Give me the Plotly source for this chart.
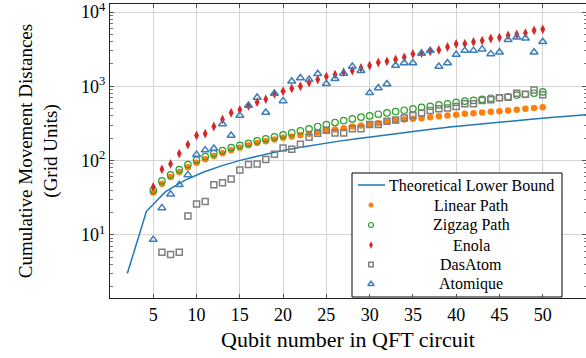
import plotly.graph_objects as go

qubits = list(range(5, 51))

bound_n = [2.00, 4.21, 6.42, 8.63, 10.83, 13.04, 15.25, 17.46, 19.67, 21.88, 24.08, 26.29,
           28.50, 30.71, 32.92, 35.13, 37.33, 39.54, 41.75, 43.96, 46.17, 48.38, 50.58, 52.79, 55.00]
bound_v = [3.0, 20.7, 38, 54, 70, 86, 102, 118, 134, 150, 166, 181,
           197, 213, 230, 248, 266, 284, 302, 320, 338, 356, 376, 395, 414]

linear = [37, 48.5, 60, 70, 81, 93, 104, 115, 125, 137, 148, 160, 172, 182, 192, 202,
          210, 219, 229, 240, 253, 261, 272, 287, 296, 305, 318, 332, 345, 356, 364, 371,
          383, 394, 403, 412, 425, 434, 443, 452, 461, 471, 481, 496, 511, 521]
zigzag = [39.5, 53, 64, 75.5, 88, 101, 113, 124, 136, 149, 160, 170, 184, 195, 208, 221,
          235, 251, 267, 287, 305, 325, 345, 363, 383, 399, 420, 438, 456, 475, 496, 521,
          537, 561, 579, 605, 630, 645, 665, 689, 700, 720, 760, 775, 805, 840]
enola = [44, 76, 90, 124, 164, 218, 230, 287, 358, 440, 482, 544, 610, 669, 789, 857,
         935, 1000, 1120, 1230, 1350, 1435, 1550, 1620, 1770, 1900, 2090, 2170, 2300, 2455,
         2730, 2800, 2950, 3090, 3380, 3720, 3750, 3950, 4130, 4400, 4520, 4850, 5000,
         5200, 5650, 5850]
dasatom = [None, 5.8, 5.4, 5.8, 17.9, 26, 28, 47, 50, 56.5, 74.5, 88, 90, 103.5, 121, 147,
           142, 166, 206, 233, 255, 235, 235, 267, 267, 305, 305, 338, 352, 375, 403, 438,
           470, 496, 510, 533, 580, 580, 641, 660, 700, 710, 804, 780, 890, 770]
atomique = [8.6, 23, 35, 47, 64, 120, 138, 145, 311, 217, 405, 550, 705, 443, 797, 635,
            1166, 1290, 1230, 1470, 1080, 1260, 1490, 1850, 1620, 815, 945, 1070, 1900, 2060,
            2060, 2760, 3020, 1850, 2060, 2670, 3020, 3020, 3160, 2730, 2870, 4240, 4570,
            4420, 2870, 3980]

x_ticks = [5, 10, 15, 20, 25, 30, 35, 40, 45, 50]
y_ticks = [10, 100, 1000, 10000]
y_labels = ["10<sup>1</sup>", "10<sup>2</sup>", "10<sup>3</sup>", "10<sup>4</sup>"]

series_names = ["Theoretical Lower Bound", "Linear Path", "Zigzag Path", "Enola", "DasAtom", "Atomique"]

FONT = "Liberation Serif"

styles = [
    None,
    dict(symbol="circle", size=6.5, color="#ff7f0e", line=dict(width=0)),
    dict(symbol="circle-open", size=6.5, color="#2ca02c", line=dict(width=1.2)),
    dict(symbol="diamond-tall", size=7, color="#d62728", line=dict(width=0)),
    dict(symbol="square-open", size=6, color="#7f7f7f", line=dict(width=1.5)),
    dict(symbol="triangle-up-open", size=7, color="#3b7dbb", line=dict(width=1.5)),
]
LINE_STYLE = dict(color="#1f77b4", width=1.5)

fig = go.Figure()
fig.add_trace(go.Scatter(x=bound_n, y=bound_v, mode="lines", name=series_names[0],
                         line=LINE_STYLE))
for name, vals, st in zip(series_names[1:], [linear, zigzag, enola, dasatom, atomique], styles[1:]):
    fig.add_trace(go.Scatter(x=qubits, y=vals, mode="markers", name=name, marker=st))

# --- legend (drawn on an overlay axis measured in plot pixels) ---
LX0, LX1, LY0, LY1 = 352, 562, 173, 297
row_y = [185, 205, 225, 245, 264.5, 284]
sym_x = 371
text_x = 471
fig.add_trace(go.Scatter(x=[LX0, LX1, LX1, LX0, LX0], y=[LY0, LY0, LY1, LY1, LY0],
                         mode="lines", fill="toself", fillcolor="white",
                         line=dict(color="black", width=1),
                         xaxis="x2", yaxis="y2", showlegend=False, hoverinfo="skip"))
fig.add_trace(go.Scatter(x=[sym_x - 13, sym_x + 14], y=[row_y[0], row_y[0]], mode="lines",
                         line=LINE_STYLE, xaxis="x2", yaxis="y2", showlegend=False, hoverinfo="skip"))
for i in range(1, 6):
    st = dict(styles[i])
    st["size"] = st["size"] - 1.5
    fig.add_trace(go.Scatter(x=[sym_x], y=[row_y[i]], mode="markers", marker=st,
                             xaxis="x2", yaxis="y2", showlegend=False, hoverinfo="skip"))
for i, name in enumerate(series_names):
    fig.add_annotation(x=text_x, y=row_y[i], xref="x2", yref="y2", text=name, showarrow=False,
                       xanchor="center", yanchor="middle", font=dict(family=FONT, size=16, color="black"))

fig.update_layout(
    width=586, height=358,
    margin=dict(l=110, r=0, t=4, b=60, autoexpand=False),
    paper_bgcolor="white", plot_bgcolor="white",
    font=dict(family=FONT, color="black", size=18),
    showlegend=False,
    xaxis=dict(
        range=[0, 55], tickvals=x_ticks, ticktext=[str(v) for v in x_ticks],
        automargin=False, ticklabeloverflow="allow",
        showgrid=True, gridcolor="#d4d4d4", gridwidth=1, zeroline=False,
        showline=True, linecolor="#222", linewidth=1, mirror="ticks",
        ticks="inside", ticklen=4, tickcolor="#555",
        tickfont=dict(family=FONT, size=18),
        title=dict(text="Qubit number in QFT circuit", font=dict(family=FONT, size=22), standoff=8),
    ),
    yaxis=dict(
        type="log", range=[0.148, 4.108], tickvals=y_ticks, ticktext=y_labels,
        automargin=False, ticklabeloverflow="allow",
        showgrid=True, gridcolor="#d4d4d4", gridwidth=1, zeroline=False,
        showline=True, linecolor="#222", linewidth=1, mirror="ticks",
        ticks="inside", ticklen=4, tickcolor="#555",
        minor=dict(ticks="inside", ticklen=2.5, dtick="D1", showgrid=False, tickcolor="#777"),
        tickfont=dict(family=FONT, size=18),
        title=dict(text="Cumulative Movement Distances<br>(Grid Units)",
                   font=dict(family=FONT, size=19), standoff=18),
    ),
    xaxis2=dict(overlaying="x", range=[110, 586], visible=False, fixedrange=True),
    yaxis2=dict(overlaying="y", range=[298, 4], visible=False, fixedrange=True),
)

fig.write_html("out.html", config={"displayModeBar": False},
               post_script="document.body.style.margin='0px';")
